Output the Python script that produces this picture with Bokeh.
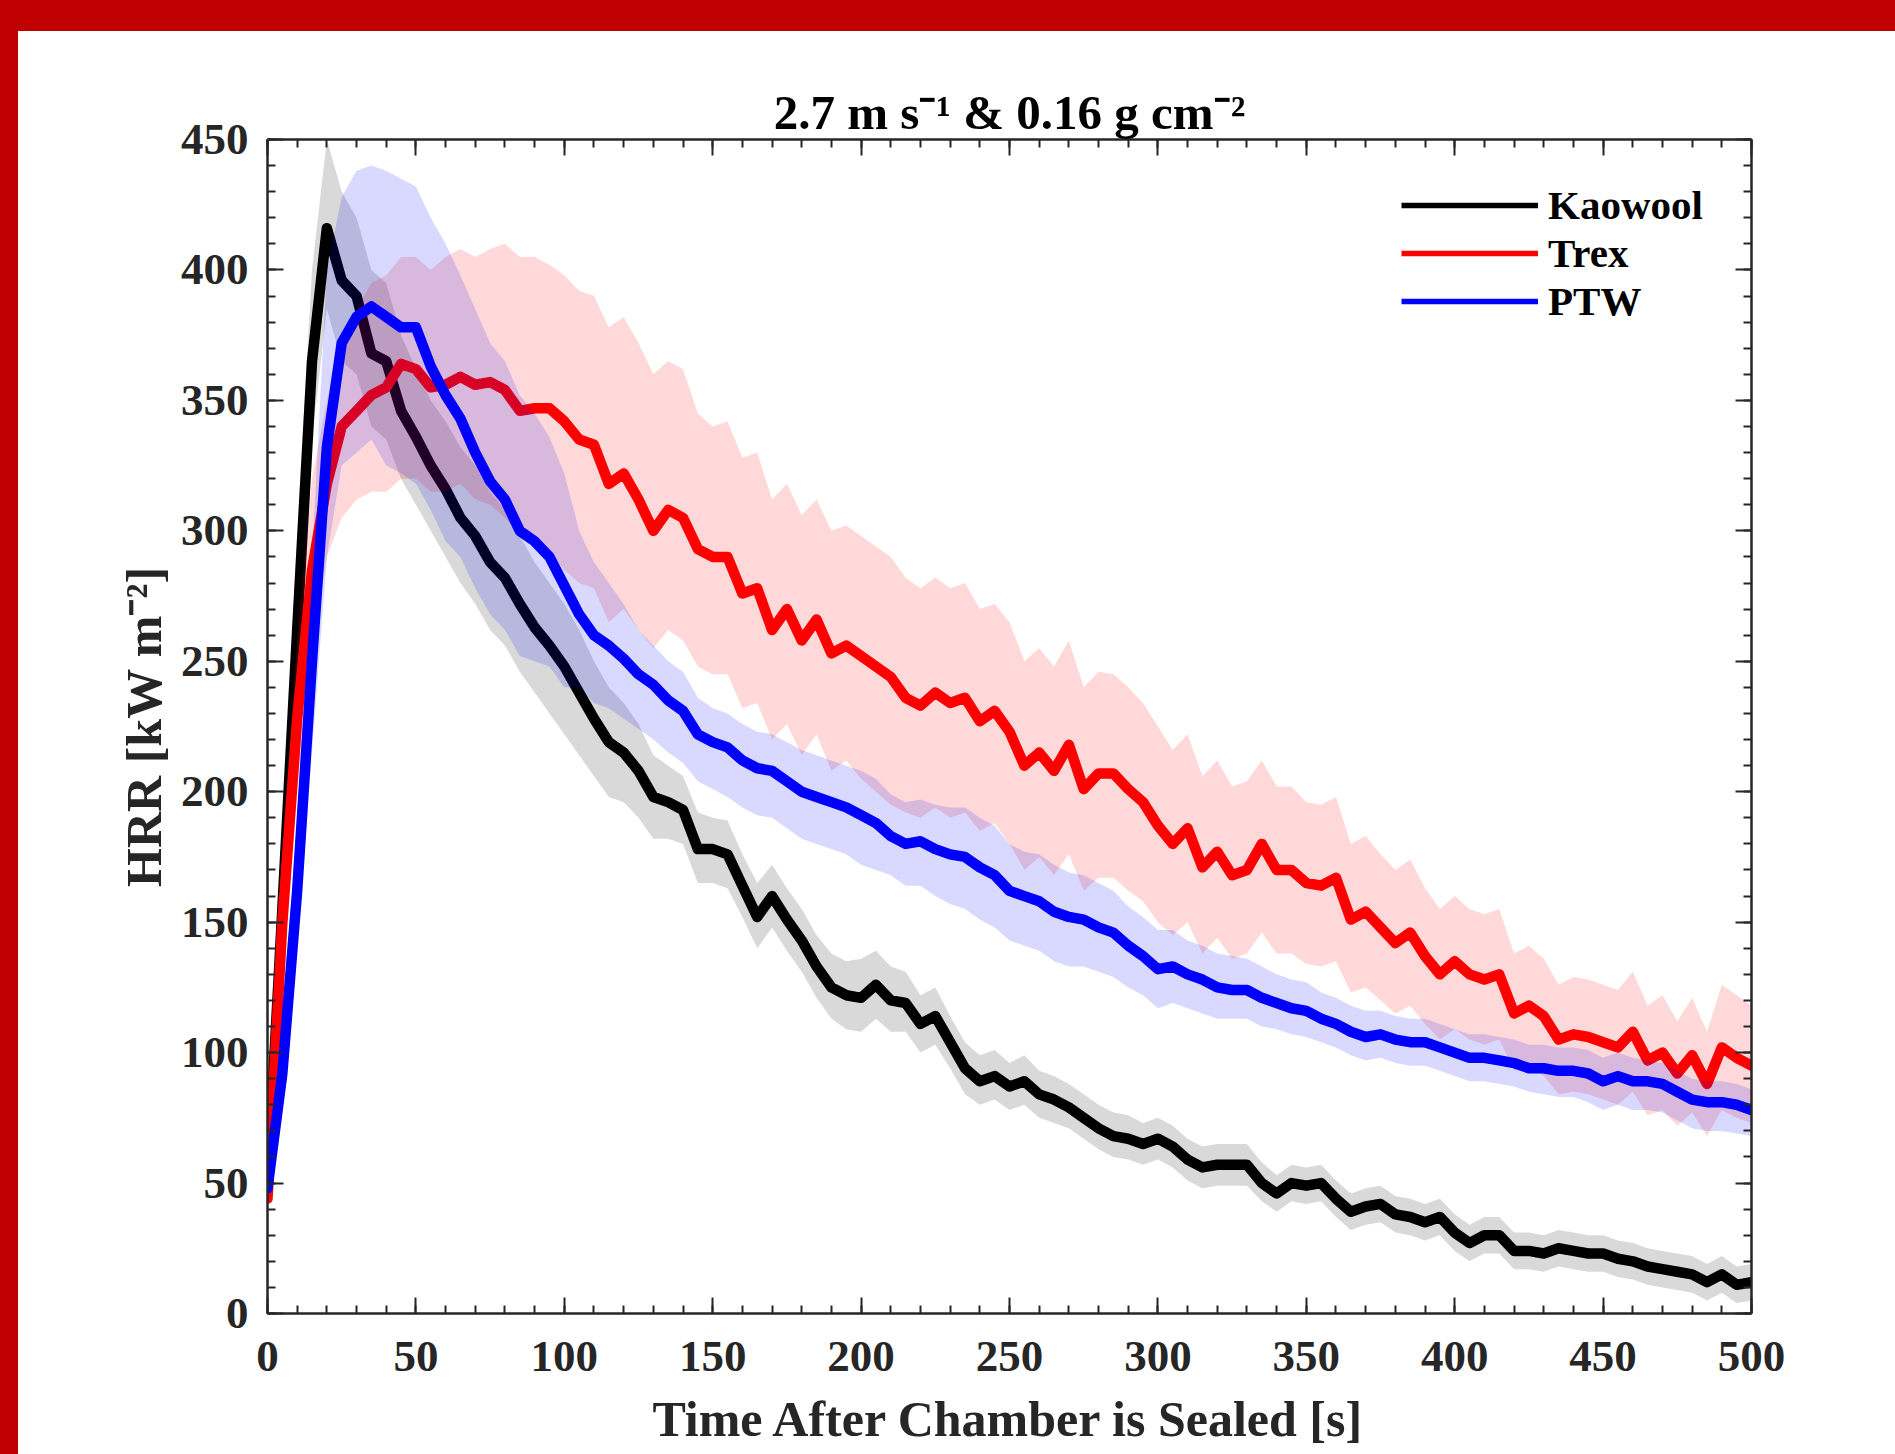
from bokeh.plotting import figure
from bokeh.models import Range1d, LinearAxis, SingleIntervalTicker, Div
from bokeh.layouts import column, row
from bokeh.embed import file_html
from bokeh.resources import INLINE

# ---------------- data ----------------
T = list(range(0, 505, 5))  # time after chamber sealed [s]

KAO_MEAN = [50, 155, 262, 365, 416, 396, 390, 368, 365, 346,
            336, 325, 316, 305, 298, 288, 282, 272, 263, 256,
            248, 238, 228, 219, 215, 208, 198, 196, 193, 178,
            178, 176, 164, 152, 160, 151, 143, 133, 125, 122,
            121, 126, 120, 119, 111, 114, 104, 94, 89, 91,
            87, 89, 84, 82, 79, 75, 71, 68, 67, 65,
            67, 64, 59, 56, 57, 57, 57, 50, 46, 50,
            49, 50, 44, 39, 41, 42, 38, 37, 35, 37,
            31, 27, 30, 30, 24, 24, 23, 25, 24, 23,
            23, 21, 20, 18, 17, 16, 15, 12, 15, 11,
            12]
KAO_LO = [42, 130, 230, 335, 385, 365, 360, 340, 335, 320,
          310, 300, 290, 280, 272, 262, 256, 246, 238, 230,
          222, 214, 206, 198, 196, 190, 182, 182, 180, 165,
          165, 163, 152, 140, 148, 139, 131, 121, 113, 109,
          108, 113, 108, 108, 100, 103, 94, 84, 80, 82,
          78, 80, 75, 73, 71, 67, 63, 60, 59, 57,
          59, 56, 51, 48, 49, 49, 49, 43, 39, 43,
          42, 43, 37, 32, 34, 35, 31, 30, 28, 30,
          24, 20, 23, 23, 17, 17, 16, 18, 17, 16,
          16, 14, 13, 11, 10, 9, 8, 5, 8, 4,
          5]
KAO_HI = [58, 180, 300, 400, 450, 430, 420, 400, 395, 375,
          362, 350, 342, 332, 325, 315, 308, 298, 288, 280,
          272, 262, 250, 240, 234, 226, 214, 210, 206, 192,
          190, 189, 176, 165, 172, 163, 155, 145, 138, 135,
          136, 139, 133, 131, 122, 125, 114, 104, 99, 101,
          96, 99, 93, 91, 88, 84, 80, 77, 76, 73,
          75, 72, 67, 64, 65, 65, 65, 58, 53, 57,
          56, 57, 51, 46, 48, 49, 45, 44, 42, 44,
          38, 34, 37, 37, 31, 31, 30, 32, 31, 30,
          30, 28, 27, 25, 24, 23, 22, 19, 22, 18,
          19]

TREX_MEAN = [44, 150, 228, 285, 318, 340, 346, 352, 355, 364,
             362, 355, 356, 359, 356, 357, 354, 346, 347, 347,
             342, 335, 333, 318, 322, 312, 300, 308, 305, 293,
             290, 290, 276, 278, 262, 270, 258, 266, 253, 256,
             252, 248, 244, 236, 233, 238, 234, 236, 227, 231,
             223, 210, 215, 208, 218, 201, 207, 207, 201, 196,
             187, 180, 186, 171, 177, 168, 170, 180, 170, 170,
             165, 164, 167, 151, 154, 148, 142, 146, 137, 130,
             135, 130, 128, 130, 115, 118, 114, 105, 107, 106,
             104, 102, 108, 97, 100, 92, 99, 88, 102, 98,
             95]
TREX_LO = [38, 120, 200, 255, 290, 305, 312, 315, 315, 320,
           320, 315, 315, 318, 312, 310, 305, 298, 295, 292,
           285, 280, 278, 265, 270, 262, 255, 262, 258, 248,
           245, 245, 232, 234, 220, 226, 214, 222, 208, 212,
           205, 200, 195, 192, 190, 194, 190, 192, 185, 188,
           180, 170, 175, 168, 176, 162, 167, 167, 162, 158,
           150, 145, 150, 138, 144, 136, 138, 146, 138, 138,
           134, 133, 135, 123, 125, 120, 115, 118, 111, 105,
           109, 105, 103, 105, 93, 95, 91, 84, 85, 84,
           82, 80, 85, 76, 78, 72, 77, 68, 78, 75,
           73]
TREX_HI = [52, 175, 260, 320, 350, 375, 385, 395, 398, 405,
           405, 400, 405, 408, 405, 408, 410, 405, 405, 402,
           398, 392, 390, 378, 382, 372, 360, 365, 362, 345,
           340, 342, 328, 330, 312, 318, 306, 312, 300, 302,
           298, 294, 290, 282, 278, 282, 278, 280, 270, 272,
           265, 250, 255, 248, 258, 240, 246, 245, 240, 234,
           225, 216, 222, 206, 212, 202, 204, 212, 202, 202,
           196, 195, 198, 180, 183, 176, 170, 174, 163, 155,
           160, 155, 153, 155, 138, 141, 136, 126, 129, 128,
           126, 124, 131, 118, 122, 112, 121, 108, 126, 122,
           118]

PTW_MEAN = [48, 92, 162, 250, 332, 372, 382, 386, 382, 378,
            378, 363, 352, 343, 330, 319, 312, 300, 296, 290,
            279, 268, 260, 256, 251, 245, 241, 235, 231, 222,
            219, 217, 212, 209, 208, 204, 200, 198, 196, 194,
            191, 188, 183, 180, 181, 178, 176, 175, 171, 168,
            162, 160, 158, 154, 152, 151, 148, 146, 141, 137,
            132, 133, 130, 128, 125, 124, 124, 121, 119, 117,
            116, 113, 111, 108, 106, 107, 105, 104, 104, 102,
            100, 98, 98, 97, 96, 94, 94, 93, 93, 92,
            89, 91, 89, 89, 88, 85, 82, 81, 81, 80,
            78]
PTW_LO = [42, 80, 140, 215, 290, 325, 330, 335, 325, 322,
          318, 308, 296, 290, 278, 268, 262, 252, 250, 248,
          240, 240, 234, 232, 228, 224, 220, 215, 211, 204,
          201, 198, 194, 191, 190, 186, 182, 180, 178, 176,
          172, 170, 168, 164, 164, 160, 157, 155, 151, 148,
          143, 141, 139, 135, 133, 133, 131, 129, 125, 122,
          117, 119, 117, 115, 113, 113, 113, 110, 109, 107,
          106, 104, 102, 99, 97, 98, 96, 95, 95, 93,
          91, 89, 89, 88, 87, 85, 84, 83, 83, 81,
          78, 80, 78, 78, 77, 74, 71, 70, 70, 69,
          68]
PTW_HI = [56, 110, 190, 290, 400, 428, 438, 440, 438, 435,
          432, 420, 410, 398, 385, 372, 365, 352, 345, 336,
          322, 300, 288, 280, 272, 262, 256, 250, 246, 236,
          232, 230, 226, 223, 222, 219, 216, 214, 212, 210,
          208, 205, 199, 196, 197, 195, 194, 194, 190, 187,
          180, 177, 176, 172, 169, 168, 165, 162, 156, 152,
          147, 147, 143, 141, 138, 137, 136, 133, 130, 128,
          127, 123, 121, 118, 116, 116, 114, 113, 113, 111,
          109, 107, 107, 106, 105, 103, 103, 102, 102, 101,
          98, 100, 98, 97, 96, 93, 90, 89, 89, 88,
          86]

SERIES = ["Kaowool", "Trex", "PTW"]
COLORS = ["#000000", "#FF0000", "#0000FF"]

TITLE = "2.7 m s\u207b\u00b9 & 0.16 g cm\u207b\u00b2"
XLABEL = "Time After Chamber is Sealed [s]"
YLABEL = "HRR [kW m\u207b\u00b2]"

# ---------------- figure ----------------
FONT = "Liberation Serif"
AX = "#262626"

p = figure(width=1877, height=1423, output_backend="svg", toolbar_location=None,
           x_range=Range1d(0, 500), y_range=Range1d(0, 450),
           min_border_left=249, min_border_right=144,
           min_border_top=108, min_border_bottom=141,
           background_fill_color="white", border_fill_color="white",
           outline_line_color=None, margin=0)

p.title.text = TITLE
p.title.align = "center"
p.title.text_font = FONT
p.title.text_font_style = "bold"
p.title.text_font_size = "49px"
p.title.text_color = "black"
p.title.standoff = 0

p.xgrid.grid_line_color = None
p.ygrid.grid_line_color = None


def style_axis(ax, show_labels):
    ax.ticker = SingleIntervalTicker(interval=50, num_minor_ticks=5)
    ax.axis_line_color = AX
    ax.axis_line_width = 2.5
    ax.major_tick_line_color = AX
    ax.major_tick_line_width = 2
    ax.minor_tick_line_color = AX
    ax.minor_tick_line_width = 2
    ax.major_tick_in = 16
    ax.major_tick_out = 0
    ax.minor_tick_in = 8
    ax.minor_tick_out = 0
    if show_labels:
        ax.major_label_text_font = FONT
        ax.major_label_text_font_style = "bold"
        ax.major_label_text_font_size = "45px"
        ax.major_label_text_color = AX
        ax.axis_label_text_font = FONT
        ax.axis_label_text_font_style = "bold"
        ax.axis_label_text_font_size = "50px"
        ax.axis_label_text_color = AX
    else:
        # tick marks only: labels are not drawn at all
        ax.major_label_text_color = None
        ax.major_label_text_font_size = "1px"
        ax.major_label_standoff = 0


xb = p.below[0]
yl = p.left[0]
style_axis(xb, True)
style_axis(yl, True)
xb.axis_label = XLABEL
yl.axis_label = YLABEL
xb.major_label_standoff = 28
xb.axis_label_standoff = 17
yl.major_label_standoff = 19
yl.axis_label_standoff = 6

xt = LinearAxis()
yr = LinearAxis()
style_axis(xt, False)
style_axis(yr, False)
p.add_layout(xt, "above")
p.add_layout(yr, "right")

# lines and shaded bands (MATLAB-like draw order)
means = [KAO_MEAN, TREX_MEAN, PTW_MEAN]
los = [KAO_LO, TREX_LO, PTW_LO]
his = [KAO_HI, TREX_HI, PTW_HI]
for m, lo, hi, c in zip(means, los, his, COLORS):
    p.line(x=T, y=m, line_color=c, line_width=10.5, line_join="round", line_cap="round")
    p.varea(x=T, y1=lo, y2=hi, fill_color=c, fill_alpha=0.15)

# legend samples (thinner lines, as in the reference); NaN point -> nothing in the plot
NAN = float("nan")
for name, c in zip(SERIES, COLORS):
    p.line(x=[NAN], y=[NAN], line_color=c, line_width=5.5, legend_label=name)

lg = p.legend[0]
lg.location = "top_right"
lg.margin = 42
lg.padding = 0
lg.spacing = 0
lg.glyph_width = 137
lg.glyph_height = 46
lg.label_height = 46
lg.label_width = 161
lg.label_standoff = 10
lg.label_text_font = FONT
lg.label_text_font_style = "bold"
lg.label_text_font_size = "41px"
lg.label_text_color = "black"
lg.border_line_color = None
lg.background_fill_alpha = 0

# red page frame (top and left bands)
top_bar = Div(text="", width=1895, height=31, margin=0,
              styles={"background-color": "#C00000"})
left_bar = Div(text="", width=18, height=1423, margin=0,
               styles={"background-color": "#C00000"})
layout = column(top_bar, row(left_bar, p, spacing=0, margin=0), spacing=0, margin=0)

open("out.html", "w").write(file_html(layout, INLINE))
